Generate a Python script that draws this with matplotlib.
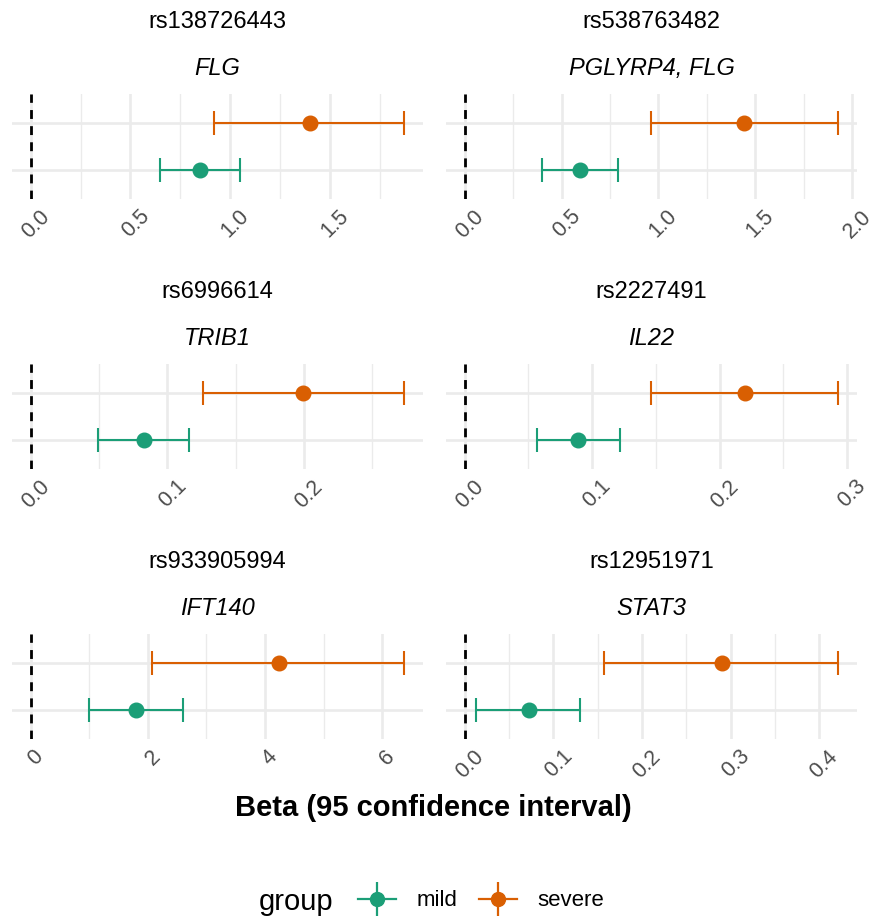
import numpy as np
import matplotlib.pyplot as plt
import matplotlib.transforms as mtransforms
from matplotlib.lines import Line2D
from matplotlib.legend_handler import HandlerTuple

plt.rcParams['font.family'] = ['Liberation Sans', 'DejaVu Sans']

snps = ["rs138726443", "rs538763482", "rs6996614", "rs2227491", "rs933905994", "rs12951971"]
genes = ["FLG", "PGLYRP4, FLG", "TRIB1", "IL22", "IFT140", "STAT3"]

mild_beta = [0.847, 0.596, 0.0826, 0.0893, 1.79, 0.072]
mild_lo = [0.647, 0.398, 0.0495, 0.0567, 0.99, 0.0132]
mild_hi = [1.047, 0.793, 0.1157, 0.1219, 2.594, 0.1306]
severe_beta = [1.397, 1.442, 0.1995, 0.2196, 4.232, 0.2897]
severe_lo = [0.917, 0.961, 0.1257, 0.1464, 2.077, 0.1572]
severe_hi = [1.872, 1.928, 0.2733, 0.2932, 6.38, 0.4214]

tick_labels = [
    ["0.0", "0.5", "1.0", "1.5"],
    ["0.0", "0.5", "1.0", "1.5", "2.0"],
    ["0.0", "0.1", "0.2"],
    ["0.0", "0.1", "0.2", "0.3"],
    ["0", "2", "4", "6"],
    ["0.0", "0.1", "0.2", "0.3", "0.4"],
]

MILD = "#1B9E77"
SEVERE = "#D95F02"
GRID = "#EBEBEB"

W, H = 886, 919
fig = plt.figure(figsize=(W / 100, H / 100), dpi=100)

col_x = [12, 446]
row_top = [94, 364, 634]
pw, ph = 411, 105

for i in range(6):
    r, c = divmod(i, 2)
    x0, top = col_x[c], row_top[r]
    ax = fig.add_axes([x0 / W, 1 - (top + ph) / H, pw / W, ph / H])

    lo = min(0, mild_lo[i], severe_lo[i])
    hi = max(mild_hi[i], severe_hi[i])
    pad = (hi - lo) * 0.05
    ax.set_xlim(lo - pad, hi + pad)
    ax.set_ylim(0.4, 2.6)

    ticks = [float(t) for t in tick_labels[i]]
    step = ticks[1] - ticks[0]
    minors = [t + step / 2 for t in [ticks[0] - step] + ticks]
    minors = [m for m in minors if lo - pad <= m <= hi + pad]
    ax.set_xticks(ticks)
    ax.set_xticklabels(tick_labels[i])
    ax.set_xticks(minors, minor=True)
    ax.set_yticks([1, 2])
    ax.set_yticklabels([])

    ax.grid(True, which='major', color=GRID, lw=1.9)
    ax.grid(True, which='minor', axis='x', color=GRID, lw=1.0)
    ax.set_axisbelow(True)
    ax.tick_params(length=0, which='both')
    ax.tick_params(axis='x', pad=5, labelsize=15.5, labelcolor='#4D4D4D')
    for s in ax.spines.values():
        s.set_visible(False)

    ax.axvline(0, color='black', lw=2.0, ls=(0, (3.2, 2.6)), zorder=2)

    for beta, l, h, y, col in [(mild_beta[i], mild_lo[i], mild_hi[i], 1, MILD),
                               (severe_beta[i], severe_lo[i], severe_hi[i], 2, SEVERE)]:
        ax.errorbar([beta], [y], xerr=[[beta - l], [h - beta]], fmt='o', color=col,
                    ms=10.5, capsize=8.4, elinewidth=1.5, capthick=1.5, zorder=3)

    off = mtransforms.ScaledTranslation(5 / 100, 0, fig.dpi_scale_trans)
    for lab in ax.get_xticklabels():
        lab.set_rotation(45)
        lab.set_ha('center')
        lab.set_transform(lab.get_transform() + off)

    cx = (x0 + pw / 2) / W
    fig.text(cx, 1 - (top - 66) / H, snps[i], ha='center', va='baseline', fontsize=17)
    fig.text(cx, 1 - (top - 19) / H, genes[i], ha='center', va='baseline',
             fontsize=17, style='italic')

fig.text(433 / W, 1 - 808 / H, "Beta (95 confidence interval)", ha='center', va='center',
         fontsize=21, fontweight='bold')

handles = []
for col in [MILD, SEVERE]:
    handles.append((Line2D([], [], color=col, lw=1.6, marker='o', ms=10),
                    Line2D([], [], color=col, marker='|', ms=25, mew=1.6, ls='none')))
fig.legend(handles, ["mild", "severe"], loc='center', bbox_to_anchor=(481 / W, 1 - 901 / H),
           ncol=2, frameon=False, fontsize=16, handlelength=1.7, handletextpad=0.9,
           columnspacing=1.0, handler_map={tuple: HandlerTuple(ndivide=1, pad=0)})
fig.text(333 / W, 1 - 910 / H, "group", ha='right', va='baseline', fontsize=21)

fig.savefig("out.png", dpi=100)
